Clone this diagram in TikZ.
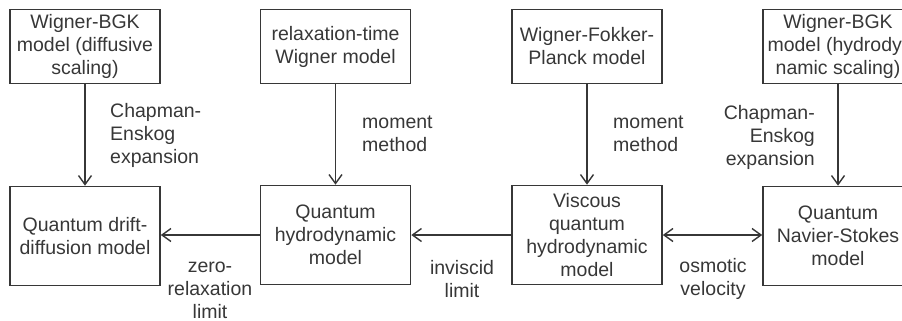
\documentclass[tikz,border=0pt]{standalone}
\usepackage{fontspec}
\setmainfont{Liberation Sans}
\usetikzlibrary{arrows.meta}
\definecolor{ink}{RGB}{55,55,55}
\begin{document}
\begin{tikzpicture}[x=1pt,y=-1pt,
  every node/.style={font=\fontsize{19.5}{23}\selectfont, text=ink},
  topbox/.style={draw=ink, line width=1.6pt, minimum width=150pt, minimum height=74pt, align=center, inner sep=2pt},
  botbox/.style={draw=ink, line width=1.6pt, minimum width=150pt, minimum height=99pt, align=center, inner sep=2pt},
  conn/.style={draw=ink, line width=1.4pt, -{Straight Barb[length=9pt,width=13pt,line width=1.4pt]}},
  lbl/.style={inner sep=0pt}]
\useasboundingbox (0,0) rectangle (902,321);
\node[topbox] (t1) at (85,46.5) {Wigner-BGK\\model (diffusive\\scaling)};
\node[topbox] (t2) at (335.5,46.5) {relaxation-time\\Wigner model};
\node[topbox] (t3) at (587,46.5) {Wigner-Fokker-\\Planck model};
\node[topbox] (t4) at (838,46.5) {Wigner-BGK\\model (hydrody-\\namic scaling)};
\node[botbox] (b1) at (85,236) {Quantum drift-\\diffusion model};
\node[botbox] (b2) at (335.5,235) {Quantum\\hydrodynamic\\model};
\node[botbox] (b3) at (587,235) {Viscous\\quantum\\hydrodynamic\\model};
\node[botbox] (b4) at (838,236) {Quantum\\Navier-Stokes\\model};
\draw[conn] (t1.south) -- (b1.north);
\draw[conn] (t2.south) -- (b2.north);
\draw[conn] (t3.south) -- (b3.north);
\draw[conn] (t4.south) -- (b4.north);
\draw[conn] (b2.west) -- (b2.west -| b1.east);
\draw[conn] (b3.west) -- (b3.west -| b2.east);
\draw[conn, {Straight Barb[length=9pt,width=13pt,line width=1.4pt]}-{Straight Barb[length=9pt,width=13pt,line width=1.4pt]}] (b3.east) -- (b3.east -| b4.west);
\node[lbl, anchor=west, align=left] (l1) at (110,135) {Chapman-\\Enskog\\expansion};
\node[lbl, anchor=west, align=left] (l2) at (362,134) {moment\\method};
\node[lbl, anchor=west, align=left] (l3) at (613,134) {moment\\method};
\node[lbl, anchor=east, align=right] (l4) at (815,137) {Chapman-\\Enskog\\expansion};
\node[lbl, align=center] (l5) at (210,290) {zero-\\relaxation\\limit};
\node[lbl, align=center] (l6) at (462,279) {inviscid\\limit};
\node[lbl, align=center] (l7) at (713,279) {osmotic\\velocity};
\end{tikzpicture}
\end{document}
